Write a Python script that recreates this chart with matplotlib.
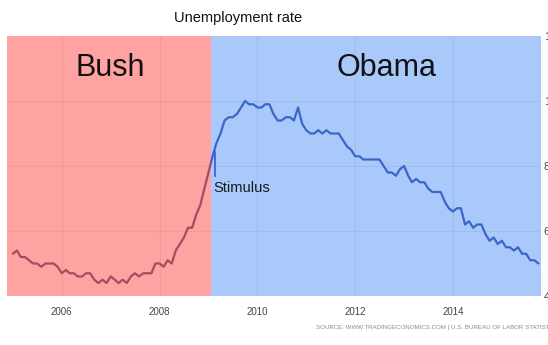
import matplotlib
matplotlib.use("Agg")
import matplotlib.pyplot as plt
import numpy as np
import pandas as pd

# Monthly US unemployment rate, Jan 2005 - Oct 2015 (%)
rate_2005 = [5.3, 5.4, 5.2, 5.2, 5.1, 5.0, 5.0, 4.9, 5.0, 5.0, 5.0, 4.9]
rate_2006 = [4.7, 4.8, 4.7, 4.7, 4.6, 4.6, 4.7, 4.7, 4.5, 4.4, 4.5, 4.4]
rate_2007 = [4.6, 4.5, 4.4, 4.5, 4.4, 4.6, 4.7, 4.6, 4.7, 4.7, 4.7, 5.0]
rate_2008 = [5.0, 4.9, 5.1, 5.0, 5.4, 5.6, 5.8, 6.1, 6.1, 6.5, 6.8, 7.3]
rate_2009 = [7.8, 8.3, 8.7, 9.0, 9.4, 9.5, 9.5, 9.6, 9.8, 10.0, 9.9, 9.9]
rate_2010 = [9.8, 9.8, 9.9, 9.9, 9.6, 9.4, 9.4, 9.5, 9.5, 9.4, 9.8, 9.3]
rate_2011 = [9.1, 9.0, 9.0, 9.1, 9.0, 9.1, 9.0, 9.0, 9.0, 8.8, 8.6, 8.5]
rate_2012 = [8.3, 8.3, 8.2, 8.2, 8.2, 8.2, 8.2, 8.0, 7.8, 7.8, 7.7, 7.9]
rate_2013 = [8.0, 7.7, 7.5, 7.6, 7.5, 7.5, 7.3, 7.2, 7.2, 7.2, 6.9, 6.7]
rate_2014 = [6.6, 6.7, 6.7, 6.2, 6.3, 6.1, 6.2, 6.2, 5.9, 5.7, 5.8, 5.6]
rate_2015 = [5.7, 5.5, 5.5, 5.4, 5.5, 5.3, 5.3, 5.1, 5.1, 5.0]

start_month = "2005-01"
obama_start = "2009-01-20"
stimulus_date = "2009-02-17"
x_ticks = [2006, 2008, 2010, 2012, 2014]
y_ticks = [4, 6, 8, 10, 12]
y_tick_labels = ["4", "6", "8", "10", "12"]

rates = np.array(rate_2005 + rate_2006 + rate_2007 + rate_2008 + rate_2009 + rate_2010
                 + rate_2011 + rate_2012 + rate_2013 + rate_2014 + rate_2015)
dates = pd.date_range(start_month, periods=len(rates), freq="MS")


def dec_year(d):
    d = pd.Timestamp(d)
    return d.year + (d.dayofyear - 1) / (366 if d.is_leap_year else 365)


x = np.array([dec_year(d) for d in dates])
x_obama = dec_year(obama_start)
x_stim = dec_year(stimulus_date)

plt.rcParams["font.family"] = ["Liberation Sans", "DejaVu Sans"]

fig = plt.figure(figsize=(5.48, 3.45), dpi=100)
ax = fig.add_axes([7 / 548, 1 - 296 / 345, (541 - 7) / 548, (296 - 36) / 345])

xmin, xmax = 2004.88, 2015.80
ax.set_xlim(xmin, xmax)
ax.set_ylim(4, 12)

pink = "#ffa2a2"
blue = "#a9c9fa"
ax.axvspan(xmin, x_obama, color=pink, lw=0, zorder=0)
ax.axvspan(x_obama, xmax, color=blue, lw=0, zorder=0)

for yv in [6, 8, 10]:
    ax.axhline(yv, color=(0, 0, 0, 0.05), lw=0.8, zorder=1)
for xv in x_ticks:
    ax.axvline(xv, color=(0, 0, 0, 0.05), lw=0.8, zorder=1)

# line: split at Obama start
rate_at_split = np.interp(x_obama, x, rates)
mask_b = x < x_obama
xb = np.append(x[mask_b], x_obama)
yb = np.append(rates[mask_b], rate_at_split)
xo = np.insert(x[~mask_b], 0, x_obama)
yo = np.insert(rates[~mask_b], 0, rate_at_split)
ax.plot(xb, yb, color="#a84a62", lw=1.6, zorder=3, solid_capstyle="round")
ax.plot(xo, yo, color="#3867c8", lw=1.6, zorder=3, solid_capstyle="round")

# stimulus marker
stim_rate = np.interp(x_stim, x, rates)
ax.plot([x_stim, x_stim], [stim_rate - 0.1, stim_rate - 0.85], color="#3a55e0", lw=1.2, zorder=4)
ax.text(x_stim - 0.02, stim_rate - 0.98, "Stimulus", fontsize=10.5, color="#1a1a1a",
        ha="left", va="top", zorder=5)

ax.text(2007.0, 11.0, "Bush", fontsize=22, color="#111111", ha="center", va="center")
ax.text(2012.65, 11.0, "Obama", fontsize=22, color="#111111", ha="center", va="center")

for s in ax.spines.values():
    s.set_visible(False)

ax.set_xticks(x_ticks)
ax.set_xticklabels([str(t) for t in x_ticks], fontsize=7, color="#444444")
ax.tick_params(axis="x", length=0, pad=8)
ax.yaxis.tick_right()
ax.set_yticks(y_ticks)
ax.set_yticklabels(y_tick_labels, fontsize=8, color="#444444")
ax.tick_params(axis="y", length=0, pad=2)

fig.text(238 / 548, 1 - 18 / 345, "Unemployment rate", fontsize=10.5, color="#111111",
         ha="center", va="center")
fig.text(316 / 548, 1 - 327 / 345,
         "SOURCE: WWW.TRADINGECONOMICS.COM | U.S. BUREAU OF LABOR STATISTICS",
         fontsize=4.4, color="#888888", ha="left", va="center")

fig.savefig("out.png", dpi=100, facecolor="white")
